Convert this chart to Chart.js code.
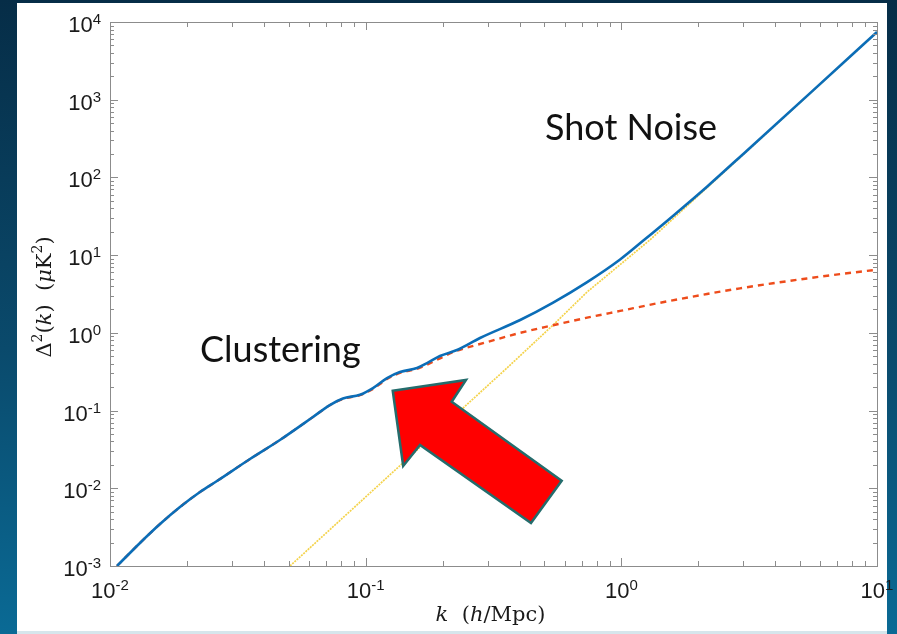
<!DOCTYPE html>
<html>
<head>
<meta charset="utf-8">
<script src="https://cdn.jsdelivr.net/npm/chart.js@4.4.1/dist/chart.umd.min.js"></script>
<style>
  body { margin: 0; width: 897px; height: 634px; overflow: hidden; position: relative;
         background: linear-gradient(180deg, #062d47 0%, #0a4a6c 55%, #0a6a95 100%); }
  #panel { position: absolute; left: 17px; top: 3px; width: 870px; height: 628px; background: #fff; }
  #strip { position: absolute; left: 17px; top: 631px; width: 870px; height: 3px; background: #d6e6ec; }
  #chart { position: absolute; left: 0; top: 0; }
</style>
</head>
<body>
<div id="panel"></div>
<div id="strip"></div>
<canvas id="chart" width="897" height="634"></canvas>
<script>
// total power (clustering + shot noise)
const kTotal = [0.01065, 0.01310, 0.01569, 0.01878, 0.02249, 0.02621, 0.03528, 0.0462, 0.0622, 0.0724, 0.0815, 0.0950, 0.1068, 0.1212, 0.1362, 0.1588, 0.1738, 0.1953, 0.2276, 0.280, 0.402, 0.541, 0.735, 0.989, 1.216, 1.592, 2.163, 3.097, 5.57, 10];
const powerTotal = [0.00100, 0.00198, 0.00347, 0.00574, 0.00895, 0.01241, 0.02379, 0.0418, 0.0826, 0.1178, 0.1430, 0.1600, 0.195, 0.262, 0.313, 0.353, 0.409, 0.504, 0.601, 0.859, 1.462, 2.45, 4.50, 8.8, 15.3, 32, 76, 221, 1280, 7430];

// clustering term
const kClustering = [0.01065, 0.01310, 0.01569, 0.01878, 0.02249, 0.02621, 0.03528, 0.0462, 0.0622, 0.0724, 0.0815, 0.0950, 0.1068, 0.1212, 0.1362, 0.1588, 0.1738, 0.1953, 0.220, 0.299, 0.402, 0.541, 0.735, 0.989, 1.416, 2.163, 2.911, 3.917, 5.32, 7.16, 10];
const powerClustering = [0.00100, 0.00198, 0.00347, 0.00574, 0.00895, 0.01241, 0.02379, 0.0418, 0.0826, 0.1170, 0.1410, 0.1580, 0.190, 0.255, 0.305, 0.345, 0.390, 0.470, 0.566, 0.762, 1.000, 1.253, 1.567, 1.914, 2.438, 3.162, 3.741, 4.345, 5.012, 5.70, 6.49];

// shot noise term
const kShot = [0.0506, 0.357, 0.541, 0.735, 1.294, 10];
const powerShot = [0.001, 0.353, 1.262, 3.36, 15.7, 7400];

// axis decades
const xExponents = [-2, -1, 0, 1];
const yExponents = [-3, -2, -1, 0, 1, 2, 3, 4];

// annotations (data coordinates)
const clusteringLabel = { text: 'Clustering', k: 0.0225, p: 0.4217 };
const shotLabel = { text: 'Shot Noise', k: 0.5028, p: 303 };
const arrowK = [0.1276, 0.2469, 0.2170, 0.5844, 0.4432, 0.1631, 0.1402];
const arrowP = [0.180, 0.2473, 0.130, 0.01250, 0.003573, 0.0361, 0.01934];

const pairs = (xs, ys) => xs.map((x, i) => ({ x: x, y: ys[i] }));

const SANS = '"Liberation Sans", Arial, sans-serif';
const SERIF = '"DejaVu Serif", "Liberation Serif", serif';

// draw a run of text pieces left to right, centred on x
function drawParts(ctx, parts, x, y) {
    let total = 0;
    parts.forEach(p => { ctx.font = p.f; total += ctx.measureText(p.t).width; });
    let cx = x - total / 2;
    parts.forEach(p => {
        ctx.font = p.f;
        ctx.fillText(p.t, cx, y + (p.dy || 0));
        cx += ctx.measureText(p.t).width;
    });
}

function powerLabel(exp) {
    return [
        { t: '10', f: '22px ' + SANS },
        { t: String(exp), f: '15px ' + SANS, dy: -8 }
    ];
}

const axesPlugin = {
    id: 'matlabAxes',
    afterDraw(chart) {
        const ctx = chart.ctx;
        const a = chart.chartArea;
        const xs = chart.scales.x, ys = chart.scales.y;
        ctx.save();

        // frame
        ctx.strokeStyle = '#8c8c8c';
        ctx.lineWidth = 1;
        ctx.strokeRect(a.left + 0.5, a.top + 0.5, a.right - a.left, a.bottom - a.top);

        // inward ticks on all sides
        ctx.beginPath();
        for (let e = -2; e <= 1; e++) {
            for (let m = 1; m <= 9; m++) {
                const v = m * Math.pow(10, e);
                if (v < 0.01 || v > 10) continue;
                const px = Math.round(xs.getPixelForValue(v)) + 0.5;
                const len = m === 1 ? 8 : 5;
                ctx.moveTo(px, a.bottom); ctx.lineTo(px, a.bottom - len);
                ctx.moveTo(px, a.top); ctx.lineTo(px, a.top + len);
            }
        }
        for (let e = -3; e <= 4; e++) {
            for (let m = 1; m <= 9; m++) {
                const v = m * Math.pow(10, e);
                if (v < 0.001 || v > 10000) continue;
                const py = Math.round(ys.getPixelForValue(v)) + 0.5;
                const len = m === 1 ? 8 : 4;
                ctx.moveTo(a.left, py); ctx.lineTo(a.left + len, py);
                ctx.moveTo(a.right, py); ctx.lineTo(a.right - len, py);
            }
        }
        ctx.stroke();

        // tick labels
        ctx.fillStyle = '#1a1a1a';
        ctx.textBaseline = 'alphabetic';
        ctx.textAlign = 'left';
        xExponents.forEach(e => {
            drawParts(ctx, powerLabel(e), xs.getPixelForValue(Math.pow(10, e)), a.bottom + 32);
        });
        yExponents.forEach(e => {
            const parts = powerLabel(e);
            let w = 0;
            parts.forEach(p => { ctx.font = p.f; w += ctx.measureText(p.t).width; });
            drawParts(ctx, parts, a.left - 9 - w / 2, ys.getPixelForValue(Math.pow(10, e)) + 10);
        });

        // axis titles
        ctx.fillStyle = '#1a1a1a';
        drawParts(ctx, [
            { t: 'k', f: 'italic 21px ' + SERIF },
            { t: '  (', f: '21px ' + SERIF },
            { t: 'h', f: 'italic 21px ' + SERIF },
            { t: '/Mpc)', f: '21px ' + SERIF }
        ], (a.left + a.right) / 2 - 3, 621);

        ctx.save();
        ctx.translate(51, (a.top + a.bottom) / 2 + 3);
        ctx.rotate(-Math.PI / 2);
        drawParts(ctx, [
            { t: '\u0394', f: '21px ' + SERIF },
            { t: '2', f: '14px ' + SERIF, dy: -9 },
            { t: '(', f: '21px ' + SERIF },
            { t: 'k', f: 'italic 21px ' + SERIF },
            { t: ')  (', f: '21px ' + SERIF },
            { t: '\u03bc', f: 'italic 21px ' + SERIF },
            { t: 'K', f: '21px ' + SERIF },
            { t: '2', f: '14px ' + SERIF, dy: -9 },
            { t: ')', f: '21px ' + SERIF }
        ], 0, 0);
        ctx.restore();

        // text annotations
        ctx.fillStyle = '#111';
        ctx.font = '36px Lato, "Open Sans", sans-serif';
        ctx.textAlign = 'left';
        [clusteringLabel, shotLabel].forEach(l => {
            ctx.fillText(l.text, xs.getPixelForValue(l.k), ys.getPixelForValue(l.p));
        });

        // arrow
        ctx.beginPath();
        arrowK.forEach((k, i) => {
            const px = xs.getPixelForValue(k), py = ys.getPixelForValue(arrowP[i]);
            if (i === 0) ctx.moveTo(px, py); else ctx.lineTo(px, py);
        });
        ctx.closePath();
        ctx.fillStyle = '#ff0000';
        ctx.fill();
        ctx.strokeStyle = '#246c6c';
        ctx.lineWidth = 2.5;
        ctx.lineJoin = 'miter';
        ctx.stroke();

        ctx.restore();
    }
};

new Chart(document.getElementById('chart').getContext('2d'), {
    type: 'line',
    data: {
        datasets: [
            {
                label: 'Total',
                data: pairs(kTotal, powerTotal),
                borderColor: '#0b6db7',
                borderWidth: 2.6,
                pointRadius: 0,
                cubicInterpolationMode: 'monotone',
                order: 1
            },
            {
                label: 'Clustering',
                data: pairs(kClustering, powerClustering),
                borderColor: '#ee4c1b',
                borderWidth: 2.4,
                borderDash: [6, 5],
                pointRadius: 0,
                cubicInterpolationMode: 'monotone',
                order: 2
            },
            {
                label: 'Shot noise',
                data: pairs(kShot, powerShot),
                borderColor: '#f4d34c',
                borderWidth: 1.7,
                borderDash: [2, 1],
                pointRadius: 0,
                tension: 0,
                order: 3
            }
        ]
    },
    options: {
        responsive: false,
        animation: false,
        devicePixelRatio: 1,
        layout: { padding: { left: 110, top: 22, right: 20, bottom: 68 } },
        plugins: { legend: { display: false }, tooltip: { enabled: false } },
        scales: {
            x: { type: 'logarithmic', min: 0.01, max: 10, display: false },
            y: { type: 'logarithmic', min: 0.001, max: 10000, display: false }
        }
    },
    plugins: [axesPlugin]
});
</script>
</body>
</html>
